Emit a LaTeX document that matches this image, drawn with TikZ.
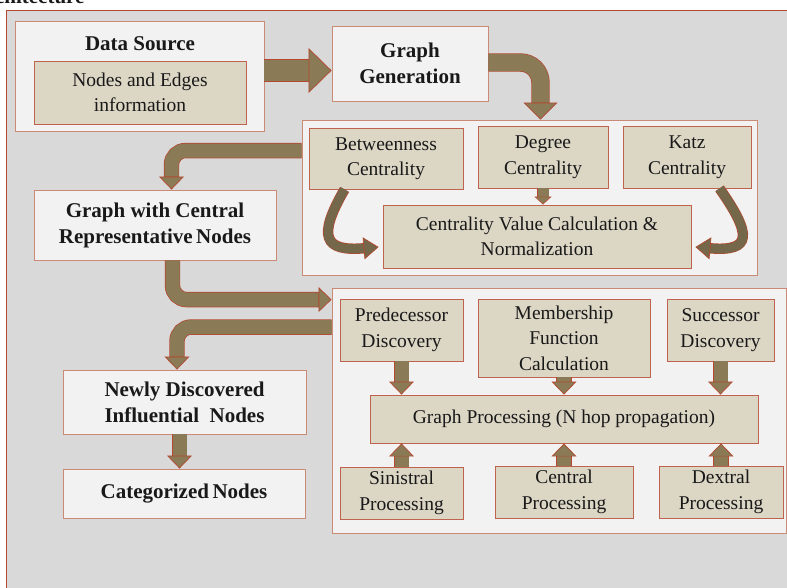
\documentclass[tikz,border=0pt]{standalone}
\usepackage{fontspec}
\setmainfont{Liberation Serif}
\usetikzlibrary{arrows.meta,calc}
\definecolor{canvas}{HTML}{D9D9D9}
\definecolor{paper}{HTML}{F2F2F2}
\definecolor{tan}{HTML}{DCD6C5}
\definecolor{rim}{HTML}{B5482F}
\definecolor{softrim}{HTML}{C98A76}
\definecolor{mud}{HTML}{8B7A56}
\definecolor{mudd}{HTML}{74674A}

\begin{document}
\begin{tikzpicture}[
  x=1pt,y=1pt,
  txt/.style={font=\fontsize{19.5}{25.5}\selectfont,align=center,text=black!90},
  head/.style={font=\fontsize{21}{26}\selectfont\bfseries,align=center,text=black!90},
  wh/.style 2 args={minimum width=#1pt,minimum height=#2pt},
  whitebox/.style={draw=softrim,fill=paper,line width=0.9pt,inner sep=0pt},
  tanbox/.style={draw=rim!85,fill=tan,line width=0.9pt,inner sep=0pt},
  flow/.style={draw=mud,line width=14pt,rounded corners=14pt,
    -{Triangle[width=25pt,length=13pt,fill=mud,color=rim,line width=0.7pt]},
    preaction={draw=rim,line width=15.4pt,-,shorten >=12pt}},
  midflow/.style={draw=mud,line width=17pt,rounded corners=20pt,
    -{Triangle[width=34pt,length=17pt,fill=mud,color=rim,line width=0.7pt]},
    preaction={draw=rim,line width=18.4pt,-,shorten >=16pt}},
  bigflow/.style={draw=mud,line width=21pt,
    -{Triangle[width=45pt,length=23pt,fill=mud,color=rim,line width=0.7pt]},
    preaction={draw=rim,line width=22.4pt,-,shorten >=22pt}},
  tinyflow/.style={draw=mud,line width=11pt,
    -{Triangle[width=17pt,length=8pt,fill=mud,color=rim,line width=0.6pt]},
    preaction={draw=rim,line width=12.2pt,-,shorten >=7pt}},
  curl/.style={draw=mudd,line width=9pt,
    -{Triangle[width=22pt,length=15pt,fill=mudd,color=rim,line width=0.7pt]},
    preaction={draw=rim,line width=10.4pt,-,shorten >=14pt}},
]
\useasboundingbox (0,0) rectangle (787,-587);
\clip (0,0) rectangle (787,-587);

% backdrop
\draw[draw=rim,fill=canvas,line width=1pt] (6.5,-10) rectangle (800,-600);
\node[head,anchor=base east] (caption) at (88,-3.5) {Architecture};

% data source and generation
\node[whitebox,wh={249}{110}] (ds) at (139.5,-76) {};
\node[head] (dstitle) at (140,-44) {Data Source};
\node[tanbox,txt,wh={212}{63}] (dsin) at (140,-92.5) {Nodes and Edges\\information};
\node[whitebox,head,wh={156}{75}] (gg) at (410,-63.5) {Graph\\Generation};

% centrality panel
\node[whitebox,wh={455}{155}] (cpanel) at (529.5,-197.5) {};
\node[tanbox,txt,wh={154}{61}] (bc) at (386,-158.5) {Betweenness\\Centrality};
\node[tanbox,txt,wh={130}{62}] (dc) at (543,-157) {Degree\\Centrality};
\node[tanbox,txt,wh={128}{62}] (kc) at (687,-157) {Katz\\Centrality};
\node[tanbox,txt,wh={308}{63}] (cvc) at (537,-236.5) {Centrality Value Calculation \&\\Normalization};

\node[whitebox,head,wh={242}{70}] (gcr) at (155,-225) {Graph with Central\\Representative\,Nodes};

% propagation panel
\node[whitebox,wh={454}{245}] (ppanel) at (559,-410.5) {};
\node[tanbox,txt,wh={123}{62}] (pd) at (401.5,-330) {Predecessor\\Discovery};
\node[tanbox,txt,wh={172}{78}] (mf) at (564,-338) {Membership\\Function\\Calculation};
\node[tanbox,txt,wh={107}{62}] (sd) at (720.5,-330) {Successor\\Discovery};
\node[tanbox,txt,wh={388}{48}] (gp) at (564,-419) {Graph Processing (N hop propagation)};
\node[tanbox,txt,wh={123}{52}] (sp) at (401.5,-493) {Sinistral\\Processing};
\node[tanbox,txt,wh={138}{52}] (cp) at (564,-492) {Central\\Processing};
\node[tanbox,txt,wh={124}{52}] (dp) at (721,-492) {Dextral\\Processing};

\node[whitebox,head,wh={243}{64}] (ndi) at (184.5,-402) {Newly Discovered\\Influential\ \ Nodes};
\node[whitebox,head,wh={242}{49}] (cat) at (184,-493.5) {Categorized\,Nodes};

% connectors
\coordinate (dsout) at ($(ds.east)+(0,5.5)$);
\draw[bigflow] (dsout) -- (dsout -| gg.west);
\draw[midflow] ($(gg.east)+(0,1)$) -| ($(cpanel.north)+(11,0)$);
\draw[tinyflow] (dc.south) -- (dc.south |- cvc.north);
\draw[curl] ($(bc.south west)+(36,0)$) to[out=240,in=185,looseness=2.1] ($(cvc.west)+(-4,-10.5)$);
\draw[curl] ($(kc.south west)+(97,0)$) to[out=-55,in=-5,looseness=2.3] ($(cvc.east)+(4,-10.5)$);
\draw[flow] ($(cpanel.north west)+(0,-31)$) -| ($(gcr.north)+(16.5,0)$);
\draw[flow] ($(gcr.south)+(17.5,0)$) |- ($(ppanel.north west)+(0,-12)$);
\draw[flow] ($(ppanel.north west)+(0,-39.5)$) -| ($(ndi.north)+(-7.5,0)$);
\coordinate (ndiout) at ($(ndi.south)+(-5,0)$);
\draw[flow] (ndiout) -- (ndiout |- cat.north);
\foreach \a in {pd,mf,sd}
  \draw[flow] (\a.south) -- (\a.south |- gp.north);
\foreach \a in {sp,cp,dp}
  \draw[flow] (\a.north) -- (\a.north |- gp.south);
\end{tikzpicture}
\end{document}
